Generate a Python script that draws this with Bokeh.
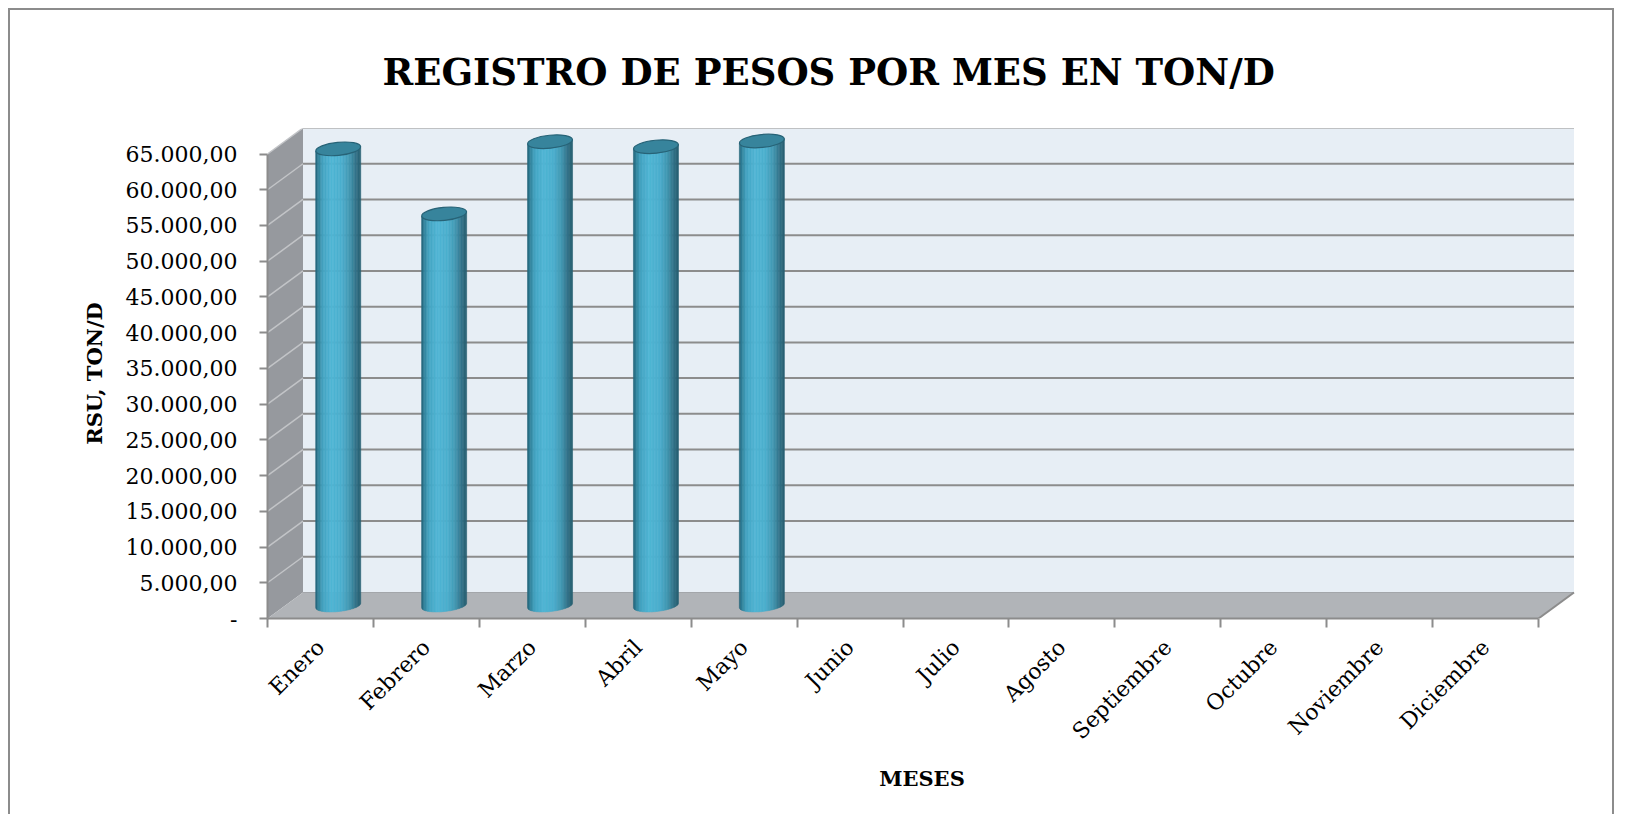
import math
import numpy as np
from bokeh.plotting import figure
from bokeh.models import Range1d, FixedTicker
from bokeh.embed import file_html
from bokeh.resources import INLINE

# ---------------- data ----------------
months = ["Enero", "Febrero", "Marzo", "Abril", "Mayo", "Junio", "Julio",
          "Agosto", "Septiembre", "Octubre", "Noviembre", "Diciembre"]
values = [63900, 54800, 64900, 64200, 65000]   # recorded months only (Enero..Mayo)
y_ticks = list(range(0, 65001, 5000))

title_text = "REGISTRO DE PESOS POR MES EN TON/D"
y_label = "RSU, TON/D"
x_label = "MESES"


def fmt(v):
    if v == 0:
        return "-"
    s = f"{v:,.2f}"
    return s.replace(",", "X").replace(".", ",").replace("X", ".")


# ---------------- geometry (pixel based 3-D look) ----------------
N = len(months)
YMAX = y_ticks[-1]
FRAME_W, FRAME_H = 1309, 490
PX_PER_X = 1271 / N
PX_PER_Y = 464.5 / YMAX
DX = 35.5 / PX_PER_X          # depth offset in data units
DY = 26.0 / PX_PER_Y
x_end = FRAME_W / PX_PER_X
y_end = FRAME_H / PX_PER_Y

p = figure(width=1606, height=806, output_backend="svg", toolbar_location=None,
           x_range=Range1d(0, x_end), y_range=Range1d(0, y_end),
           min_border_left=257, min_border_right=40, min_border_top=118,
           min_border_bottom=198, background_fill_color="white",
           border_fill_color="white", outline_line_color=None)
p.styles = {"margin-left": "8px", "margin-top": "8px",
            "border-top": "2px solid #8c8c8c", "border-left": "2px solid #8c8c8c",
            "border-right": "2px solid #8c8c8c"}
p.grid.visible = False

GRID = "#8C8C8C"

# back wall
p.quad(left=[DX], right=[N + DX], bottom=[DY], top=[YMAX + DY],
       fill_color="#E7EEF5", line_color=None)
gv = y_ticks[1:]
p.segment(x0=[DX] * len(gv), y0=[v + DY for v in gv], x1=[N + DX] * len(gv),
          y1=[v + DY for v in gv], line_color=GRID, line_width=2)
# left wall
p.patch([0, DX, DX, 0], [0, DY, YMAX + DY, YMAX], fill_color="#96999E", line_color=None)
p.segment(x0=[0] * len(gv), y0=gv, x1=[DX] * len(gv), y1=[v + DY for v in gv],
          line_color="#C2C4C7", line_width=1.5)
# floor
p.patch([0, N, N + DX, DX], [0, 0, DY, DY], fill_color="#B1B4B8", line_color=None)
p.segment(x0=[DX], y0=[DY], x1=[N + DX], y1=[DY], line_color="#A3A6AA", line_width=1)
p.segment(x0=[N], y0=[0], x1=[N + DX], y1=[DY], line_color=GRID, line_width=2)

# ---------------- cylinders ----------------
a = 22.5 / PX_PER_X
b = 6.0 / PX_PER_Y
tilt = 0.1
slope = tilt * PX_PER_X / PX_PER_Y
stops_u = [0.0, 0.05, 0.16, 0.35, 0.58, 0.76, 0.9, 1.0]
stops_c = [(0x22, 0x5E, 0x72), (0x2E, 0x7C, 0x94), (0x44, 0xA4, 0xC2), (0x50, 0xB6, 0xD5),
           (0x4C, 0xB0, 0xCF), (0x42, 0x97, 0xB2), (0x33, 0x72, 0x88), (0x26, 0x5E, 0x71)]


def col(u):
    r = int(np.interp(u, stops_u, [c[0] for c in stops_c]))
    g = int(np.interp(u, stops_u, [c[1] for c in stops_c]))
    bb = int(np.interp(u, stops_u, [c[2] for c in stops_c]))
    return "#%02x%02x%02x" % (r, g, bb)


NS = 30
xs, ys, cs = [], [], []
cx_list, top_list = [], []
for i, v in enumerate(values):
    cx = i + 0.5 + DX / 2
    base = DY / 2
    top = v + DY / 2
    cx_list.append(cx)
    top_list.append(top)
    for k in range(NS):
        u0, u1 = k / NS, (k + 1) / NS
        xa, xb = cx - a + 2 * a * u0, cx - a + 2 * a * u1
        bx = np.linspace(xb, xa, 5)
        by = [base + slope * (x - cx) - b * math.sqrt(max(0.0, 1 - ((x - cx) / a) ** 2))
              for x in bx]
        xs.append([xa, xb] + list(bx))
        ys.append([top + slope * (xa - cx), top + slope * (xb - cx)] + by)
        cs.append(col((u0 + u1) / 2))
p.patches(xs, ys, fill_color=cs, line_color=cs, line_width=0.6)
p.ellipse(x=cx_list, y=top_list, width=45, height=13, width_units="screen",
          height_units="screen", angle=tilt, fill_color="#37849C",
          line_color="#276377", line_width=1.2)

# ---------------- axes ----------------
yax = p.yaxis[0]
xax = p.xaxis[0]

yax.ticker = FixedTicker(ticks=y_ticks)
yax.major_label_overrides = {v: fmt(v) for v in y_ticks}
yax.bounds = (0, YMAX)
yax.axis_line_color = GRID
yax.axis_line_width = 2
yax.major_tick_line_color = GRID
yax.major_tick_line_width = 2
yax.major_tick_out = 8
yax.major_tick_in = 0
yax.minor_tick_line_color = None
yax.major_label_text_font = "DejaVu Serif"
yax.major_label_text_font_size = "22px"
yax.major_label_text_color = "black"
yax.major_label_standoff = 22
yax.axis_label = y_label
yax.axis_label_text_font = "DejaVu Serif"
yax.axis_label_text_font_style = "bold"
yax.axis_label_text_font_size = "21px"
yax.axis_label_text_color = "black"
yax.axis_label_standoff = 16

xax.ticker = FixedTicker(ticks=[i + 0.5 for i in range(N)], minor_ticks=list(range(N + 1)))
xax.major_label_overrides = {i + 0.5: m for i, m in enumerate(months)}
xax.bounds = (0, N)
xax.axis_line_color = GRID
xax.axis_line_width = 2
xax.major_tick_line_color = None
xax.major_tick_out = 9
xax.major_tick_in = 0
xax.minor_tick_line_color = GRID
xax.minor_tick_line_width = 2
xax.minor_tick_out = 9
xax.minor_tick_in = 0
xax.major_label_orientation = math.pi / 4
xax.major_label_text_font = "DejaVu Serif"
xax.major_label_text_font_size = "22px"
xax.major_label_text_color = "black"
xax.major_label_standoff = 16
xax.axis_label = x_label
xax.axis_label_text_font = "DejaVu Serif"
xax.axis_label_text_font_style = "bold"
xax.axis_label_text_font_size = "21px"
xax.axis_label_text_color = "black"
xax.axis_label_standoff = 10

p.title.text = title_text
p.title.text_font = "DejaVu Serif"
p.title.text_font_style = "bold"
p.title.text_font_size = "37px"
p.title.text_color = "black"
p.title.align = "left"
p.title.offset = 115
p.title.standoff = 70

open("out.html", "w").write(file_html(p, INLINE))
